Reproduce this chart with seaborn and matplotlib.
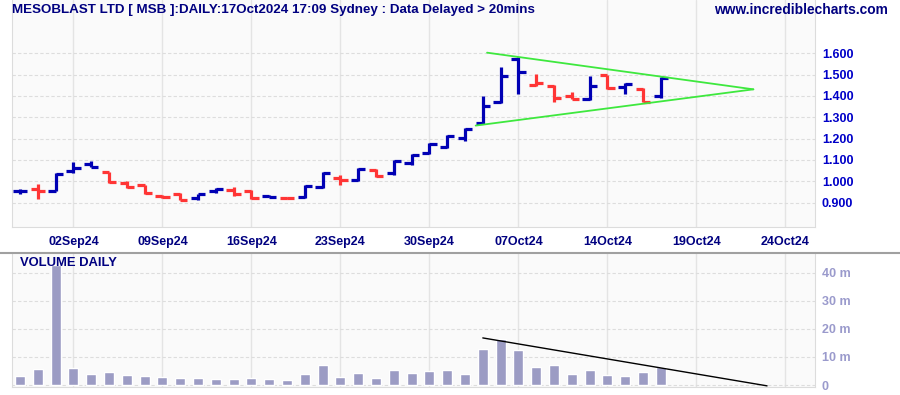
import numpy as np
import pandas as pd
import matplotlib
matplotlib.use("Agg")
import matplotlib.pyplot as plt
import seaborn as sns

# ---------------- data ----------------
dates = ["28Aug", "29Aug", "30Aug",
         "02Sep", "03Sep", "04Sep", "05Sep", "06Sep",
         "09Sep", "10Sep", "11Sep", "12Sep", "13Sep",
         "16Sep", "17Sep", "18Sep", "19Sep", "20Sep",
         "23Sep", "24Sep", "25Sep", "26Sep", "27Sep",
         "30Sep", "01Oct", "02Oct", "03Oct", "04Oct",
         "07Oct", "08Oct", "09Oct", "10Oct", "11Oct",
         "14Oct", "15Oct", "16Oct", "17Oct"]
opens = [0.955, 0.963, 0.955, 1.048, 1.079, 1.042, 0.992, 0.981, 0.932, 0.941,
         0.921, 0.953, 0.960, 0.955, 0.932, 0.921, 0.926, 0.972, 1.017, 1.005,
         1.054, 1.040, 1.087, 1.131, 1.162, 1.204, 1.272, 1.370, 1.573, 1.450,
         1.448, 1.400, 1.386, 1.498, 1.441, 1.431, 1.402]
highs = [0.962, 0.988, 1.037, 1.088, 1.096, 1.045, 1.003, 0.983, 0.936, 0.943,
         0.942, 0.969, 0.974, 0.958, 0.935, 0.924, 0.983, 1.043, 1.028, 1.064,
         1.059, 1.101, 1.129, 1.179, 1.215, 1.250, 1.400, 1.536, 1.581, 1.502,
         1.452, 1.420, 1.495, 1.500, 1.459, 1.436, 1.488]
lows = [0.942, 0.919, 0.952, 1.037, 1.065, 0.993, 0.967, 0.941, 0.921, 0.910,
        0.912, 0.947, 0.933, 0.916, 0.924, 0.918, 0.921, 0.969, 0.984, 1.000,
        1.020, 1.030, 1.075, 1.126, 1.157, 1.187, 1.267, 1.369, 1.411, 1.448,
        1.373, 1.384, 1.381, 1.434, 1.408, 1.370, 1.389]
closes = [0.955, 0.953, 1.034, 1.062, 1.068, 0.995, 0.971, 0.944, 0.926, 0.913,
          0.940, 0.963, 0.940, 0.921, 0.926, 0.921, 0.978, 1.039, 1.008, 1.058,
          1.026, 1.093, 1.125, 1.173, 1.210, 1.244, 1.352, 1.492, 1.514, 1.461,
          1.390, 1.385, 1.448, 1.439, 1.455, 1.373, 1.483]
volumes_m = [3.2, 5.7, 42.8, 6.1, 4.0, 4.7, 3.6, 3.2, 2.9, 2.5,
             2.5, 2.2, 2.2, 2.5, 2.2, 1.8, 4.0, 7.2, 2.9, 4.3,
             2.5, 5.4, 4.3, 5.0, 5.4, 4.0, 12.9, 16.5, 12.6, 6.5,
             7.2, 4.0, 5.4, 3.6, 3.2, 4.7, 6.5]
x_labels = ["02Sep24", "09Sep24", "16Sep24", "23Sep24", "30Sep24",
            "07Oct24", "14Oct24", "19Oct24", "24Oct24"]
price_ticks = [0.9, 1.0, 1.1, 1.2, 1.3, 1.4, 1.5, 1.6]
vol_ticks = [0, 10, 20, 30, 40]
# triangle trendlines (bar index, price)
upper_line = [(26.24, 1.603), (41.2, 1.431)]
lower_line = [(25.6, 1.261), (41.2, 1.431)]
vol_line = [(26.0, 16.8), (41.97, -0.3)]

# ---------------- styling ----------------
sns.set_theme(style="white")
plt.rcParams["font.family"] = ["Liberation Sans", "DejaVu Sans"]
plt.rcParams["font.weight"] = "bold"

BLUE = "#0000b4"
RED = "#ff3535"
NAVY = "#000080"
VOLC = "#9c9cc4"
GRID = "#e4e4e4"

W, H = 900, 395
fig = plt.figure(figsize=(9, 3.95), dpi=100, facecolor="white")

def fx(px):
    return px / W

def fy(py):
    return 1 - py / H

L, R = 12, 815
ax = fig.add_axes([fx(L), fy(227.5), fx(R - L), fy(0) - fy(227.5)])
axv = fig.add_axes([fx(L), fy(387), fx(R - L), fy(253) - fy(387)])

n = len(dates)
xs = np.arange(n)
df = pd.DataFrame({"x": xs, "date": dates, "open": opens, "high": highs,
                   "low": lows, "close": closes, "volume": volumes_m})
prev = df["close"].shift(1).fillna(df["close"].iloc[0] - 1)
df["up"] = df["close"] >= prev

xmin, xmax = (L - 20) / 17.8, (R - 20) / 17.8
grid_x = np.arange(3, 3 + 5 * len(x_labels), 5)

for a in (ax, axv):
    a.set_facecolor("#fafafa")
    a.set_xlim(xmin, xmax)
    for gx in grid_x:
        a.axvline(gx, color=GRID, lw=1.0, zorder=0)
    for s in a.spines.values():
        s.set_color("#dcdcdc")
        s.set_linewidth(0.8)

# ---- price panel ----
ax.set_ylim(0.783, 1.850)
for t in price_ticks:
    ax.axhline(t, color="#dddddd", lw=0.8, ls=(0, (3, 2)), zorder=0)
half = 0.4
lw = 2.3
for _, r in df.iterrows():
    c = BLUE if r["up"] else RED
    ax.vlines(r["x"], r["low"], r["high"], color=c, lw=lw, zorder=3)
    ax.hlines(r["open"], r["x"] - half, r["x"], color=c, lw=lw, zorder=3)
    ax.hlines(r["close"], r["x"], r["x"] + half, color=c, lw=lw, zorder=3)

for line in (upper_line, lower_line):
    lx, ly = zip(*line)
    sns.lineplot(x=list(lx), y=list(ly), ax=ax, color="#3ee83e", lw=1.3,
                 zorder=4, legend=False)

ax.yaxis.tick_right()
ax.set_yticks(price_ticks)
ax.set_yticklabels([f"{t:.3f}" for t in price_ticks], color="#0000c8",
                   fontsize=9, fontweight="bold")
ax.tick_params(axis="y", length=0, pad=5)
ax.set_xticks(grid_x)
ax.set_xticklabels(x_labels, color=NAVY, fontsize=9, fontweight="bold")
ax.tick_params(axis="x", length=0, pad=6)
ax.set_xlabel("")
ax.set_ylabel("")
ax.spines["top"].set_visible(False)

# ---- volume panel ----
sns.barplot(data=df, x="x", y="volume", native_scale=True, ax=axv,
            color=VOLC, saturation=1, width=0.56, zorder=3)
axv.set_xlim(xmin, xmax)
axv.set_ylim(-0.71, 47.1)
for t in vol_ticks:
    axv.axhline(t, color="#dddddd", lw=0.8, ls=(0, (3, 2)), zorder=0)
vx, vy = zip(*vol_line)
sns.lineplot(x=list(vx), y=list(vy), ax=axv, color="black", lw=1.0,
             zorder=4, legend=False)
axv.yaxis.tick_right()
axv.set_yticks(vol_ticks)
axv.set_yticklabels(["0" if t == 0 else f"{t} m" for t in vol_ticks],
                    color="#9a9acc", fontsize=9, fontweight="bold")
axv.tick_params(axis="y", length=0, pad=5)
axv.set_xticks(grid_x)
axv.set_xticklabels([])
axv.tick_params(axis="x", length=0)
axv.set_xlabel("")
axv.set_ylabel("")
axv.spines["top"].set_visible(False)

# separator line between panels
fig.add_artist(plt.Line2D([0, 1], [fy(252.5), fy(252.5)], color="#a0a0a0",
                          lw=1.5, transform=fig.transFigure))

# texts
fig.text(fx(12), fy(10), "MESOBLAST LTD [ MSB ]:DAILY:17Oct2024 17:09 Sydney : Data Delayed > 20mins",
         color=NAVY, fontsize=9.65, fontweight="bold", va="center", ha="left")
fig.text(fx(888), fy(10), "www.incrediblecharts.com", color=NAVY,
         fontsize=9.9, fontweight="bold", va="center", ha="right")
fig.text(fx(20), fy(263), "VOLUME DAILY", color=NAVY, fontsize=9.4,
         fontweight="bold", va="center", ha="left")

fig.savefig("out.png", dpi=100, facecolor="white")
